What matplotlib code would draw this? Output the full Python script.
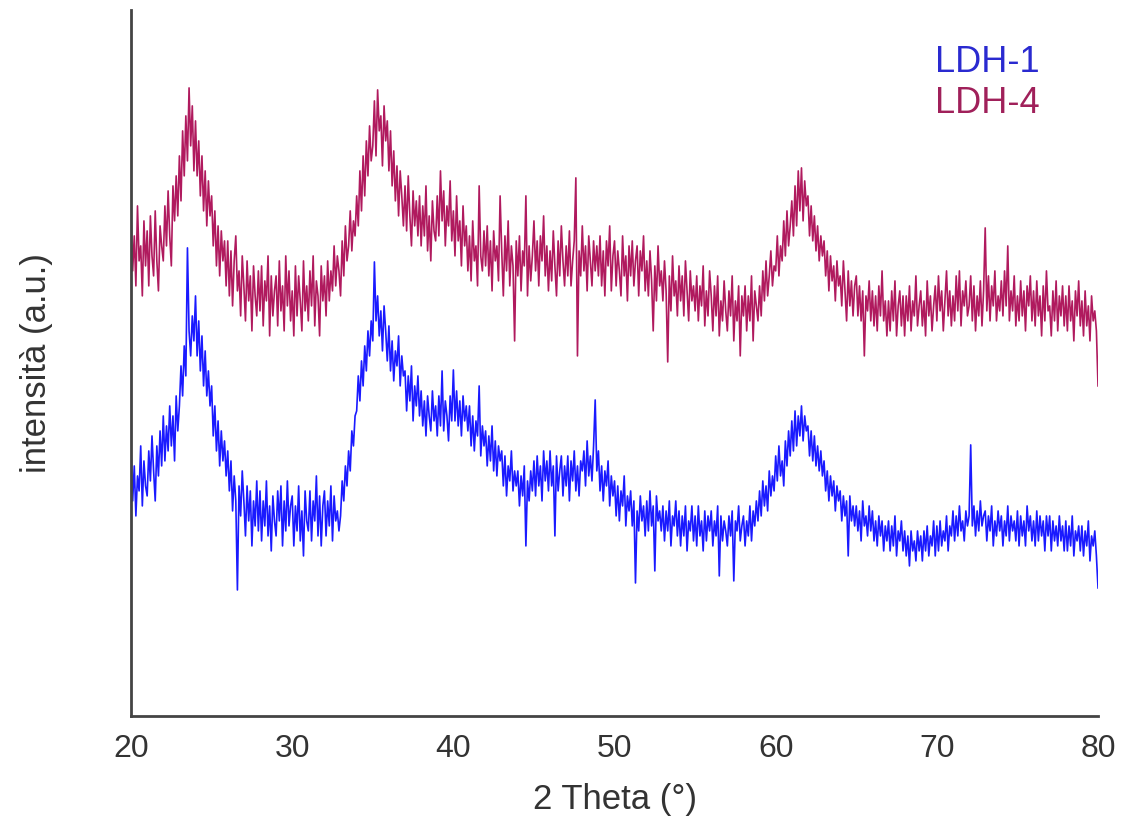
import matplotlib
matplotlib.use("Agg")
import matplotlib.pyplot as plt
import numpy as np

plt.rcParams["font.family"] = ["Liberation Sans", "DejaVu Sans"]

# 2 theta sampling, 0.1 deg step from 20 to 80
two_theta = np.linspace(20, 80, 601)

# intensities (a.u., one row per degree)
ldh4 = [
    500, 445, 480, 430, 510, 455, 470, 420, 495, 450,  # 20
    485, 430, 500, 460, 440, 505, 455, 425, 490, 470,
    455, 510, 470, 525, 480, 450, 530, 495, 540, 500,
    560, 515, 585, 540, 600, 555, 628, 570, 610, 545,
    595, 540, 575, 520, 560, 505, 545, 490, 535, 500,
    520, 470, 505, 450, 490, 440, 485, 455, 475, 430,  # 25
    475, 420, 465, 410, 455, 480, 425, 445, 400, 460,
    430, 395, 455, 415, 440, 385, 450, 420, 400, 445,
    405, 450, 390, 435, 415, 460, 380, 440, 400, 425,
    440, 390, 455, 405, 430, 385, 460, 410, 445, 395,
    425, 380, 450, 400, 440, 415, 385, 455, 405, 430,  # 30
    395, 445, 410, 460, 390, 435, 420, 380, 450, 415,
    440, 400, 455, 415, 445, 425, 470, 430, 460, 445,
    420, 475, 440, 490, 455, 470, 505, 465, 495, 480,
    520, 490, 545, 505, 560, 520, 575, 540, 590, 555,
    570, 615, 560, 626, 585, 600, 550, 610, 575, 595,  # 35
    545, 585, 530, 565, 515, 550, 500, 545, 520, 490,
    530, 485, 540, 500, 470, 525, 490, 515, 480, 520,
    470, 510, 480, 530, 465, 500, 455, 515, 485, 475,
    520, 480, 545, 495, 525, 470, 510, 490, 535, 475,
    505, 460, 520, 475, 495, 450, 510, 470, 490, 445,  # 40
    480, 435, 495, 455, 470, 430, 530, 460, 445, 485,
    450, 490, 440, 475, 425, 485, 455, 470, 435, 520,
    465, 420, 480, 445, 495, 430, 470, 450, 375, 475,
    440, 480, 425, 465, 450, 520, 420, 470, 435, 460,
    495, 445, 475, 430, 480, 455, 500, 440, 470, 425,  # 45
    465, 435, 485, 450, 420, 475, 440, 490, 455, 430,
    470, 440, 485, 430, 455, 475, 538, 360, 465, 440,
    490, 445, 470, 425, 480, 455, 430, 475, 445, 470,
    440, 480, 430, 465, 420, 475, 450, 490, 425, 460,
    475, 430, 465, 445, 420, 480, 440, 460, 415, 470,  # 50
    440, 475, 430, 455, 470, 420, 465, 445, 480, 425,
    455, 420, 465, 435, 385, 450, 415, 470, 430, 445,
    415, 455, 425, 354, 440, 405, 460, 420, 435, 400,
    450, 415, 440, 400, 455, 425, 395, 445, 415, 430,
    405, 440, 395, 430, 410, 450, 390, 425, 400, 445,  # 55
    420, 385, 430, 400, 440, 380, 415, 395, 435, 405,
    385, 425, 400, 440, 375, 415, 395, 430, 360, 420,
    400, 430, 385, 420, 395, 440, 375, 425, 410, 395,
    430, 400, 445, 415, 455, 420, 440, 465, 430, 450,
    445, 480, 440, 470, 455, 495, 460, 505, 470, 490,  # 60
    515, 480, 530, 490, 545, 505, 548, 495, 535, 510,
    520, 480, 510, 475, 500, 465, 490, 455, 480, 460,
    475, 440, 465, 425, 460, 435, 450, 415, 455, 430,
    440, 410, 455, 425, 395, 445, 410, 435, 400, 430,
    440, 400, 430, 395, 425, 360, 420, 405, 435, 395,  # 65
    425, 390, 420, 385, 430, 400, 445, 395, 415, 380,
    415, 385, 425, 395, 435, 380, 410, 425, 390, 420,
    380, 420, 395, 430, 385, 415, 400, 440, 390, 410,
    425, 390, 415, 380, 435, 400, 420, 385, 410, 430,
    395, 440, 405, 425, 385, 415, 445, 400, 425, 390,  # 70
    420, 395, 440, 405, 445, 390, 425, 410, 435, 400,
    410, 440, 395, 430, 385, 420, 400, 435, 390, 425,
    488, 405, 440, 395, 430, 410, 445, 395, 420, 405,
    435, 400, 445, 410, 470, 395, 425, 405, 440, 390,
    420, 395, 435, 400, 425, 385, 430, 410, 440, 395,  # 75
    425, 390, 435, 400, 420, 380, 430, 395, 445, 405,
    410, 380, 425, 395, 435, 385, 420, 400, 430, 390,
    420, 385, 430, 395, 415, 375, 425, 400, 435, 390,
    415, 380, 425, 390, 410, 375, 420, 395, 405, 385,
    330,                                               # 80
]

ldh1 = [
    265, 215, 250, 200, 240, 225, 270, 210, 255, 230,  # 20
    220, 265, 235, 280, 245, 215, 270, 240, 285, 250,
    300, 255, 290, 265, 310, 270, 300, 255, 320, 285,
    310, 350, 320, 370, 340, 468, 385, 360, 400, 375,
    420, 360, 395, 345, 380, 330, 365, 320, 345, 310,
    330, 280, 310, 265, 295, 250, 285, 255, 275, 240,  # 25
    265, 225, 255, 205, 240, 215, 126, 230, 200, 245,
    215, 180, 230, 195, 225, 170, 215, 190, 235, 185,
    225, 175, 215, 190, 235, 180, 210, 165, 220, 195,
    180, 225, 195, 230, 170, 215, 185, 235, 190, 210,
    220, 170, 210, 185, 230, 175, 205, 160, 225, 195,  # 30
    185, 225, 175, 215, 195, 240, 180, 220, 170, 210,
    225, 180, 215, 190, 230, 175, 220, 195, 205, 185,
    200, 235, 215, 250, 230, 265, 245, 285, 270, 300,
    305, 340, 315, 355, 330, 370, 345, 385, 360, 395,
    375, 454, 395, 420, 380, 405, 365, 410, 385, 355,  # 35
    390, 345, 375, 335, 365, 350, 380, 330, 360, 340,
    345, 305, 340, 315, 350, 295, 330, 310, 340, 300,
    325, 290, 315, 280, 320, 300, 285, 325, 295, 310,
    280, 320, 290, 345, 285, 315, 300, 275, 320, 295,
    346, 295, 325, 290, 315, 280, 320, 295, 310, 285,  # 40
    310, 270, 300, 265, 295, 280, 330, 260, 290, 270,
    285, 250, 280, 255, 290, 245, 275, 240, 270, 255,
    265, 230, 260, 220, 250, 235, 265, 225, 245, 230,
    245, 210, 240, 220, 250, 170, 235, 215, 245, 225,
    255, 220, 260, 230, 250, 215, 265, 235, 255, 225,  # 45
    265, 230, 250, 180, 260, 225, 245, 260, 220, 250,
    230, 260, 215, 255, 235, 265, 225, 250, 220, 255,
    245, 265, 230, 275, 240, 260, 235, 270, 316, 245,
    265, 225, 250, 215, 245, 230, 255, 210, 240, 220,
    235, 200, 230, 195, 225, 210, 240, 190, 220, 205,  # 50
    225, 190, 215, 133, 205, 185, 220, 195, 210, 180,
    215, 185, 225, 190, 210, 145, 220, 195, 205, 185,
    210, 175, 205, 185, 215, 170, 200, 190, 215, 180,
    205, 170, 200, 180, 210, 165, 195, 185, 210, 175,
    200, 170, 210, 180, 195, 165, 205, 175, 200, 185,  # 55
    205, 170, 195, 180, 210, 140, 200, 175, 195, 185,
    170, 200, 180, 205, 135, 195, 185, 210, 175, 190,
    200, 170, 195, 180, 210, 175, 205, 190, 215, 195,
    225, 200, 235, 210, 230, 205, 245, 220, 240, 225,
    260, 235, 270, 240, 255, 230, 275, 250, 285, 260,  # 60
    295, 265, 305, 270, 300, 280, 310, 275, 300, 285,
    290, 260, 285, 255, 280, 250, 270, 245, 265, 240,
    255, 225, 245, 215, 240, 220, 235, 205, 230, 215,
    225, 195, 220, 200, 215, 160, 220, 195, 210, 190,
    210, 185, 205, 175, 215, 190, 200, 180, 210, 185,  # 65
    205, 175, 195, 170, 200, 180, 195, 165, 190, 175,
    195, 165, 190, 170, 200, 160, 185, 175, 195, 165,
    185, 160, 180, 150, 185, 165, 175, 155, 185, 165,
    180, 155, 185, 165, 190, 160, 180, 170, 195, 160,
    190, 165, 195, 170, 185, 175, 200, 165, 190, 180,  # 70
    205, 175, 200, 180, 210, 185, 195, 175, 205, 190,
    200, 271, 190, 210, 180, 205, 185, 215, 190, 200,
    205, 175, 200, 185, 210, 170, 195, 180, 205, 185,
    200, 170, 195, 180, 210, 175, 200, 185, 195, 175,
    205, 170, 200, 180, 195, 170, 210, 185, 200, 175,  # 75
    195, 170, 205, 175, 200, 180, 195, 165, 200, 180,
    200, 165, 195, 175, 190, 170, 200, 175, 190, 165,
    195, 165, 190, 170, 200, 160, 185, 175, 190, 165,
    190, 160, 185, 170, 195, 155, 180, 170, 185, 160,
    128,                                               # 80
]

series_names = ["LDH-1", "LDH-4"]
series_colors = ["#1a1aff", "#b01a5e"]
label_colors = ["#2a2ad0", "#a0205a"]

fig = plt.figure(figsize=(11.21, 8.22), dpi=100)
ax = fig.add_axes([0.1169, 0.129, 0.8626, 0.859])

ax.plot(two_theta, ldh4, color=series_colors[1], lw=1.2)
ax.plot(two_theta, ldh1, color=series_colors[0], lw=1.2)

ax.set_xlim(20, 80)
ax.set_ylim(0, 706)
ax.set_xticks([20, 30, 40, 50, 60, 70, 80])
ax.set_yticks([])
ax.tick_params(axis="x", length=0, pad=13, labelsize=23, labelcolor="#333333")

for side in ["top", "right"]:
    ax.spines[side].set_visible(False)
for side in ["left", "bottom"]:
    ax.spines[side].set_color("#444444")
    ax.spines[side].set_linewidth(2.0)

ax.set_xlabel("2 Theta (°)", fontsize=25, color="#333333", labelpad=14)
ax.set_ylabel("intensità (a.u.)", fontsize=25, color="#333333", labelpad=56)

# legend as coloured text
for i, name in enumerate(series_names):
    ax.text(0.831, 0.925 - i * 0.058, name, transform=ax.transAxes,
            fontsize=26, color=label_colors[i], ha="left", va="center")

fig.savefig("out.png", dpi=100)
